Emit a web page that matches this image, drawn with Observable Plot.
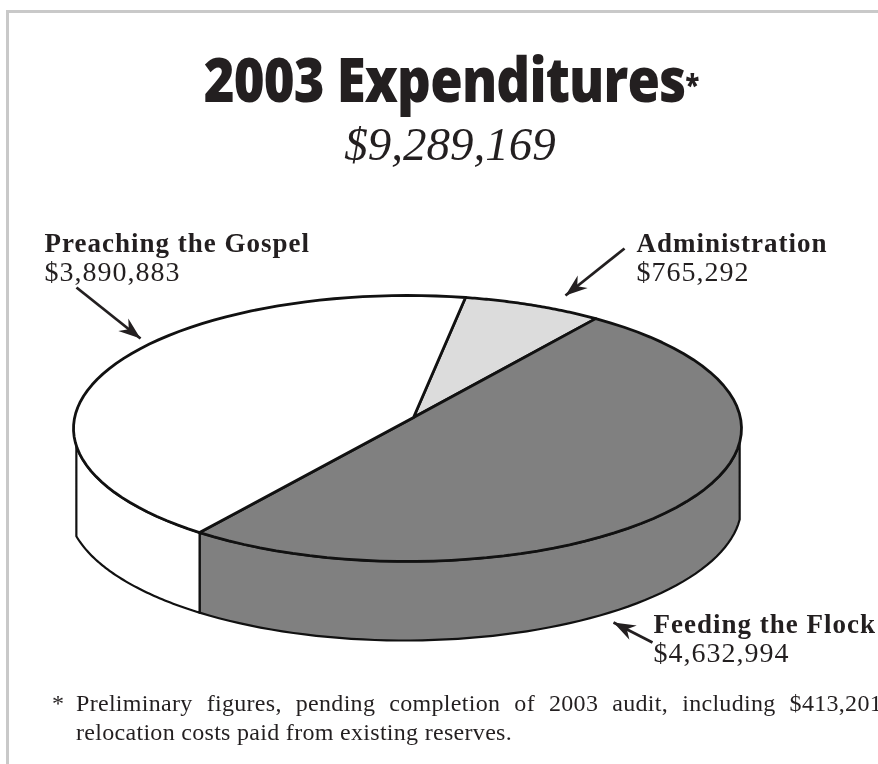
<!DOCTYPE html>
<html><head><meta charset="utf-8">
<script src="https://cdn.jsdelivr.net/npm/d3@7"></script>
<script src="https://cdn.jsdelivr.net/npm/@observablehq/plot@0.6"></script>
<style>
html,body{margin:0;padding:0;background:#fff}
#wrap{position:absolute;left:0;top:0;width:878px;height:764px;overflow:hidden;background:#fff;filter:blur(.35px)}
#frameT{position:absolute;left:6px;top:10px;width:872px;height:3px;background:#c9c9c9}
#frameL{position:absolute;left:6px;top:10px;width:3px;height:754px;background:#c9c9c9}
#title{position:absolute;left:0;top:38px;width:903px;text-align:center;font:800 62px "Open Sans",sans-serif;color:#231f20;letter-spacing:-1px;line-height:80px;white-space:nowrap;transform:scaleX(.85);transform-origin:451.5px 0}
#title span{font-size:30px;vertical-align:6px;letter-spacing:0}
#sub{position:absolute;left:0;top:119px;width:900px;text-align:center;font:italic 47px "Liberation Serif",serif;color:#231f20;line-height:50px}
#chart{position:absolute;left:0;top:190px}
#foot{position:absolute;left:0;top:689px;width:900px;font:24px/29px "Liberation Serif",serif;color:#231f20;letter-spacing:.3px}
#foot .a{position:absolute;left:52px;top:0}
#foot .b{position:absolute;left:76px;top:0;width:806px;white-space:normal}
#foot .l1{text-align:justify;text-align-last:justify}
</style></head><body>
<div id="wrap">
<div id="frameT"></div><div id="frameL"></div>
<div id="title">2003 Expenditures<span>*</span></div>
<div id="sub">$9,289,169</div>
<div id="chart"></div>
<div id="foot"><span class="a">*</span><div class="b"><div class="l1">Preliminary figures, pending completion of 2003 audit, including $413,201</div><div>relocation costs paid from existing reserves.</div></div></div>
</div>
<script>
const slices = ["Administration","Feeding the Flock","Preaching the Gospel"];
const amounts = ["$765,292","$4,632,994","$3,890,883"];
const sweepDegrees = [24.3,184.2,151.5];      // slice angles as drawn in the picture
const sliceColors = ["#dcdcdc","#808080","#ffffff"];
const startDegrees = 10;
const labelX = [636,653,44];
const labelY = [243,624,243];
const arrowFromX = [624,652,76];
const arrowFromY = [248,642,287];
const arrowToX = [565,613,140];
const arrowToY = [295,622,338];

const top_ = {cx:407,cy:428,rx:334,ry:133};
const bot = {cx:404,cy:505,rx:337,ry:135};
const apex = {x:413,y:417};
const pt = (e,deg)=>{const t=deg*Math.PI/180;return {x:e.cx+e.rx*Math.sin(t),y:e.cy-e.ry*Math.cos(t)}};
const arc = (e,a,b)=>d3.range(0,61).map(i=>pt(e,a+(b-a)*i/60));
// angle on the lower rim directly below a point of the upper rim (lower half only)
const below = deg=>180-Math.asin((pt(top_,deg).x-bot.cx)/bot.rx)*180/Math.PI;

let a0=startDegrees; const spans=sweepDegrees.map(s=>{const r=[a0,a0+s];a0+=s;return r});
const tops=slices.flatMap((s,i)=>[apex,...arc(top_,spans[i][0],spans[i][1]),apex].map(p=>({...p,slice:s})));
const feedEnd=spans[1][1], sideRight=96, sideLeft=262.5;
const side=(s,a,b)=>[...arc(top_,a,b),...arc(bot,below(b),below(a)),pt(top_,a)].map(p=>({...p,slice:s}));
const sides=[...side(slices[1],sideRight,feedEnd),...side(slices[2],feedEnd,sideLeft)];

const arrowRows=labelX.map((_,i)=>({x1:arrowFromX[i],y1:arrowFromY[i],x2:arrowToX[i],y2:arrowToY[i]}));
const heads=arrowRows.flatMap((r,i)=>{
  const L=Math.hypot(r.x2-r.x1,r.y2-r.y1),ux=(r.x2-r.x1)/L,uy=(r.y2-r.y1)/L,L1=22,W=8,N=15;
  return [[0,0],[-L1,W],[-N,0],[-L1,-W],[0,0]].map(([a,b])=>({x:r.x2+a*ux-b*uy,y:r.y2+a*uy+b*ux,i}));
});
const labelRows=slices.map((s,i)=>({s,a:amounts[i],x:labelX[i],y:labelY[i]}));
const plot=Plot.plot({
  width:878,height:490,margin:0,
  x:{domain:[0,878],axis:null},
  y:{domain:[680,190],axis:null},
  color:{domain:slices,range:sliceColors},
  marks:[
    Plot.line(sides,{x:"x",y:"y",z:"slice",fill:"slice",stroke:"#111",strokeWidth:2.2,curve:"linear"}),
    Plot.line(tops,{x:"x",y:"y",z:"slice",fill:"slice",stroke:"#111",strokeWidth:2.8,curve:"linear"}),
    Plot.link(arrowRows,{x1:"x1",y1:"y1",x2:"x2",y2:"y2",stroke:"#231f20",strokeWidth:2.8}),
    Plot.line(heads,{x:"x",y:"y",z:"i",fill:"#231f20",stroke:"none",curve:"linear"}),
    Plot.text(labelRows,{x:"x",y:"y",text:"s",textAnchor:"start",fontFamily:"Liberation Serif",fontWeight:"bold",fontSize:27,fill:"#231f20"}),
    Plot.text(labelRows,{x:"x",y:d=>d.y+29,text:"a",textAnchor:"start",fontFamily:"Liberation Serif",fontSize:28,fill:"#231f20"})
  ]
});
// letter spacing of the label texts
d3.select(plot).selectAll("g[aria-label=text]").style("letter-spacing","1px");
document.getElementById("chart").appendChild(plot);
</script>
</body></html>
